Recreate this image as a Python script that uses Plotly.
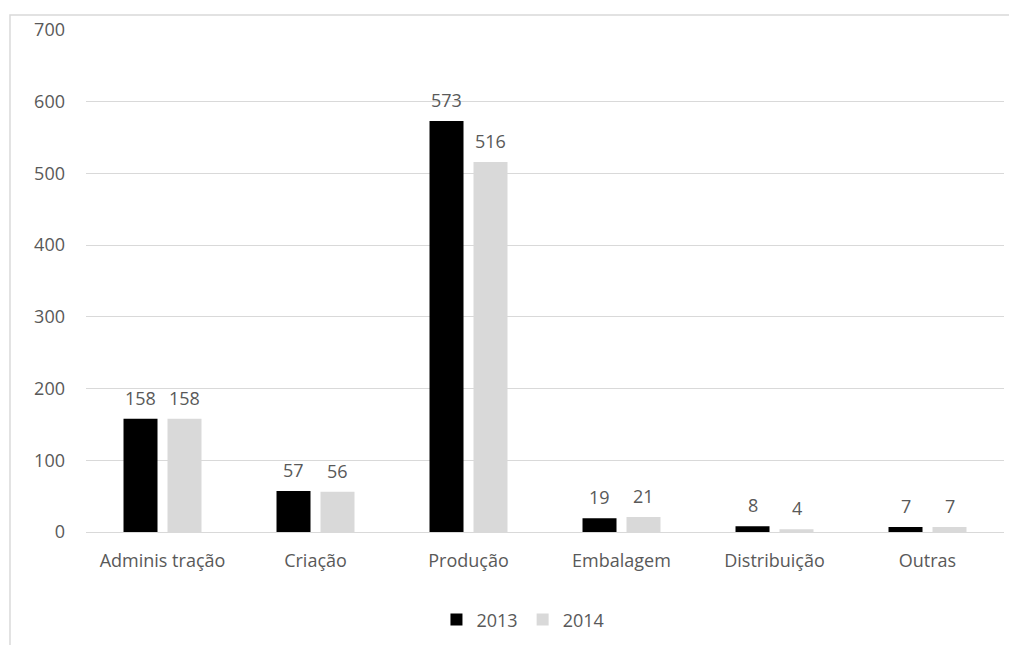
import plotly.graph_objects as go

# Categories and yearly counts
categorias = ["Adminis tração", "Criação", "Produção", "Embalagem", "Distribuição", "Outras"]
valores_2013 = [158, 57, 573, 19, 8, 7]
valores_2014 = [158, 56, 516, 21, 4, 7]
anos = ["2013", "2014"]
ticks_y = [0, 100, 200, 300, 400, 500, 600, 700]

cinza_texto = "#595959"
fonte = "Open Sans"
tamanho = 18

fig = go.Figure()
fig.add_trace(go.Bar(
    name=anos[0], x=categorias, y=valores_2013,
    marker=dict(color="#000000", line=dict(width=0)),
))
fig.add_trace(go.Bar(
    name=anos[1], x=categorias, y=valores_2014,
    marker=dict(color="#d9d9d9", line=dict(width=0)),
))

# Value labels above each bar, offset to the bar's slot in the group
anotacoes = []
for serie, deslocamento in ((valores_2013, -22), (valores_2014, 22)):
    for cat, v in zip(categorias, serie):
        anotacoes.append(dict(
            x=cat, y=v, xref="x", yref="y", text=str(v), showarrow=False,
            xshift=deslocamento, yshift=7, yanchor="bottom",
            font=dict(color=cinza_texto, size=tamanho, family=fonte),
        ))

fig.update_layout(
    width=1009, height=645,
    margin=dict(l=86, r=5, t=30, b=113),
    paper_bgcolor="white", plot_bgcolor="white",
    barmode="group", bargap=0.425, bargroupgap=0.227,
    font=dict(family=fonte, color=cinza_texto, size=tamanho),
    showlegend=True,
    legend=dict(orientation="h", x=0.476, xanchor="center", y=-0.175, yanchor="middle",
                font=dict(size=tamanho, color=cinza_texto), itemwidth=30, traceorder="normal"),
    annotations=anotacoes,
    shapes=[dict(type="rect", xref="paper", yref="paper",
                 x0=-0.0828, x1=1.02, y0=-0.3, y1=1.0299,
                 line=dict(color="#d9d9d9", width=1.5), fillcolor="rgba(0,0,0,0)",
                 layer="below")],
)
fig.update_xaxes(showgrid=False, showline=False, ticks="", tickfont=dict(size=tamanho, color=cinza_texto),
                 ticklabelstandoff=16)
fig.update_yaxes(range=[0, 700], tickvals=ticks_y, showgrid=True, gridcolor="#d9d9d9", gridwidth=1,
                 zeroline=True, zerolinecolor="#d9d9d9", zerolinewidth=1, showline=False, ticks="",
                 tickfont=dict(size=tamanho, color=cinza_texto), ticklabelstandoff=20)

fig.write_html("out.html")
